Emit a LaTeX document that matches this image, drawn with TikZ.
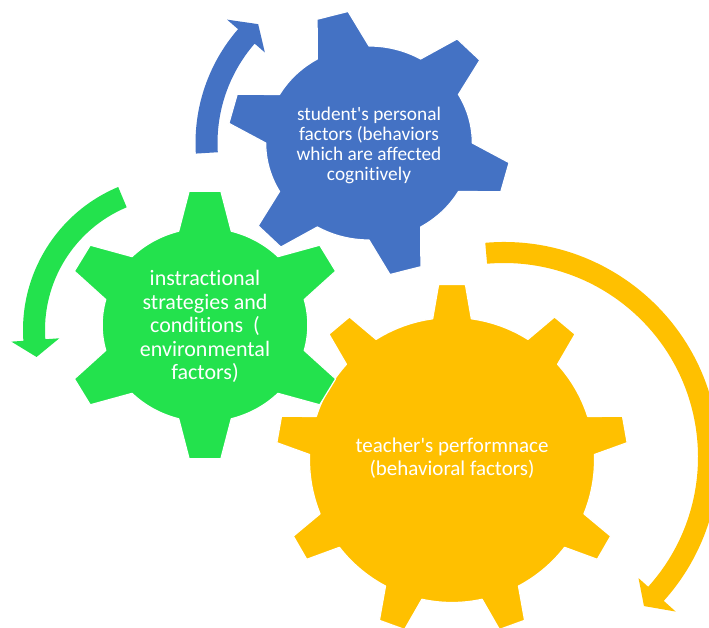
\documentclass[tikz,border=0pt]{standalone}
\usepackage{fontspec}
\setmainfont{Carlito}[Ligatures={NoCommon,NoContextual}]
\definecolor{gblue}{HTML}{4472C4}
\definecolor{ggreen}{HTML}{23E24D}
\definecolor{gyellow}{HTML}{FFC000}
% #1 style, #2 centre, #3 teeth, #4 first tooth angle, #5 body radius,
% #6 tip radius, #7 base half-angle, #8 tip half-angle, #9 horizontal stretch
\newcommand\drawgear[9]{%
  \pgfmathsetmacro\gstep{360/#3}%
  \begin{scope}[shift={#2}, xscale=#9]
    \path[#1] ({#4-#7}:#5)
      \foreach \k in {1,...,#3}{
        -- ({#4+(\k-1)*\gstep-#8}:#6) -- ({#4+(\k-1)*\gstep+#8}:#6)
        -- ({#4+(\k-1)*\gstep+#7}:#5)
        arc[start angle={#4+(\k-1)*\gstep+#7}, end angle={#4+\k*\gstep-#7}, radius=#5]
      } -- cycle;
  \end{scope}}
% #1 colour, #2 centre, #3 tail angle, #4 neck angle, #5 inner r, #6 outer r,
% #7 inner barb r, #8 outer barb r, #9 tip angle
\newcommand\circarrow[9]{%
  \begin{scope}[shift={#2}]
    \fill[#1] (#3:#6) arc[start angle=#3, end angle=#4, radius=#6]
      -- (#4:#8) -- (#9:{(#5+#6)/2}) -- (#4:#7) -- (#4:#5)
      arc[start angle=#4, end angle=#3, radius=#5] -- cycle;
  \end{scope}}
\begin{document}
\begin{tikzpicture}[x=1pt,y=1pt,
  gearfill/.style={fill=#1, draw=white, line width=1.2pt, line join=round},
  gtext/.style={text=white, align=center, inner sep=0pt}]
\useasboundingbox (0,0) rectangle (709,628);
\clip (0,0) rectangle (709,628);
\fill[white] (0,0) rectangle (709,628);
% arrows
\circarrow{gblue}{(369,485)}{183.5}{139}{151.5}{173.5}{138}{188}{133}
\circarrow{ggreen}{(178,298)}{112.7}{184}{133}{155}{119}{167}{190.8}
\circarrow{gyellow}{(504,171)}{95}{-42}{194}{215}{181}{231}{-46.8}
% gears
\drawgear{gearfill=gyellow}{(452,168)}{9}{10}{142.5}{176}{7.8}{4.36}{1}
\drawgear{gearfill=gblue}{(369,485)}{6}{-15}{97}{133}{15}{6.5}{1.065}
\drawgear{gearfill=ggreen}{(205,303)}{6}{90}{97}{134.5}{14.8}{6.4}{1.06}
% texts
\node[gtext, font=\fontsize{19.3}{20}\selectfont] (student) at (369,483)
  {student\textquotesingle s personal\\factors (behaviors\\which are affected\\cognitively};
\node[gtext, font=\fontsize{22}{23.5}\selectfont] (instr) at (205,301.5)
  {instractional\\strategies and\\conditions\ \ (\\environmental\\factors)};
\node[gtext, font=\fontsize{21}{23}\selectfont] (teacher) at (452,169.5)
  {teacher\textquotesingle s performnace\\(behavioral factors)};
\end{tikzpicture}
\end{document}
